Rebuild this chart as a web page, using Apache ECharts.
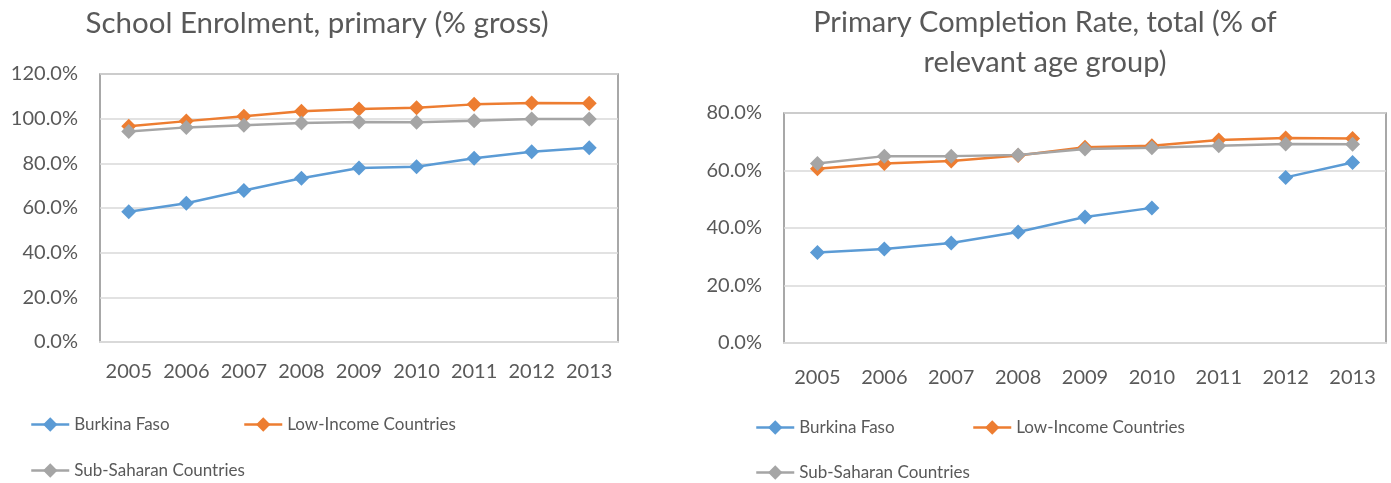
<!DOCTYPE html>
<html>
<head>
<meta charset="utf-8">
<script src="https://cdn.jsdelivr.net/npm/echarts@6/dist/echarts.min.js"></script>
<style>
  html, body { margin: 0; padding: 0; background: #ffffff; }
  #chart { width: 1391px; height: 483px; }
</style>
</head>
<body>
<div id="chart"></div>
<script>
// Years shared by both panels
const years = ['2005', '2006', '2007', '2008', '2009', '2010', '2011', '2012', '2013'];

// School enrolment, primary (% gross)
const enrolBurkina = [58.3, 62.1, 67.8, 73.3, 77.9, 78.5, 82.3, 85.2, 87.0];
const enrolLowIncome = [96.6, 98.9, 101.1, 103.3, 104.3, 104.9, 106.4, 107.0, 106.9];
const enrolSubSaharan = [94.2, 96.1, 97.0, 98.1, 98.5, 98.4, 99.1, 99.9, 99.8];

// Primary completion rate, total (% of relevant age group)
const complBurkina = [31.5, 32.7, 34.8, 38.6, 43.8, 47.0, null, 57.6, 62.8];
const complLowIncome = [60.6, 62.4, 63.3, 65.2, 68.1, 68.6, 70.6, 71.3, 71.1];
const complSubSaharan = [62.4, 65.0, 65.0, 65.4, 67.5, 67.9, 68.6, 69.2, 69.1];

const seriesNames = ['Burkina Faso', 'Low-Income Countries', 'Sub-Saharan Countries'];
const seriesColors = ['#5B9BD5', '#ED7D31', '#A5A5A5'];

const FONT = 'Lato';
const TEXT = '#595959';

const chart = echarts.init(document.getElementById('chart'), null, { renderer: 'canvas' });

function lineSeries(name, color, data, idx) {
  return {
    name: name,
    type: 'line',
    xAxisIndex: idx,
    yAxisIndex: idx,
    data: data,
    connectNulls: false,
    symbol: 'diamond',
    symbolSize: 15,
    lineStyle: { color: color, width: 2.5 },
    itemStyle: { color: color },
    emphasis: { disabled: true },
    animation: false
  };
}

function yAxis(idx, max, interval) {
  return {
    type: 'value', gridIndex: idx, min: 0, max: max, interval: interval,
    axisLine: { show: false }, axisTick: { show: false },
    splitLine: { lineStyle: { color: '#D9D9D9', width: 1.5 } },
    axisLabel: {
      margin: 22, color: TEXT, fontFamily: FONT, fontSize: 20,
      formatter: v => v.toFixed(1) + '%'
    }
  };
}

function xAxis(idx, labelMargin) {
  return {
    type: 'category', gridIndex: idx, data: years, boundaryGap: true,
    axisLine: { lineStyle: { color: '#D9D9D9', width: 2 } },
    axisTick: { show: false },
    axisLabel: { margin: labelMargin, color: TEXT, fontFamily: FONT, fontSize: 20, interval: 0 }
  };
}

function legendItem(name, left, top) {
  return {
    data: [name], left: left, top: top, orient: 'horizontal',
    itemWidth: 38, itemHeight: 18, itemGap: 0, padding: 0,
    selectedMode: false,
    lineStyle: { width: 2.5 },
    textStyle: { color: TEXT, fontFamily: FONT, fontSize: 17, padding: [0, 0, 0, 0] }
  };
}

const option = {
  backgroundColor: '#ffffff',
  animation: false,
  graphic: [
    {
      type: 'text', x: 317, y: 23,
      style: { text: 'School Enrolment, primary (% gross)', fill: TEXT, font: '29.5px ' + FONT,
               textAlign: 'center', textVerticalAlign: 'middle' }
    },
    {
      type: 'text', x: 1045, y: 43,
      style: { text: 'Primary Completion Rate, total (% of\nrelevant age group)', fill: TEXT,
               font: '29px ' + FONT, lineHeight: 40, textAlign: 'center', textVerticalAlign: 'middle' }
    }
  ],
  grid: [
    { left: 100, top: 74, width: 518, height: 268, show: true, borderColor: '#8C8C8C', borderWidth: 1.5, backgroundColor: 'transparent' },
    { left: 784, top: 113, width: 602, height: 230, show: true, borderColor: '#8C8C8C', borderWidth: 1.5, backgroundColor: 'transparent' }
  ],
  xAxis: [xAxis(0, 20), xAxis(1, 25)],
  yAxis: [yAxis(0, 120, 20), yAxis(1, 80, 20)],
  legend: [
    legendItem(seriesNames[0], 30, 416),
    legendItem(seriesNames[1], 243, 416),
    legendItem(seriesNames[2], 30, 462),
    legendItem(seriesNames[0], 755, 419),
    legendItem(seriesNames[1], 972, 419),
    legendItem(seriesNames[2], 755, 464)
  ],
  series: [
    lineSeries(seriesNames[0], seriesColors[0], enrolBurkina, 0),
    lineSeries(seriesNames[1], seriesColors[1], enrolLowIncome, 0),
    lineSeries(seriesNames[2], seriesColors[2], enrolSubSaharan, 0),
    lineSeries(seriesNames[0], seriesColors[0], complBurkina, 1),
    lineSeries(seriesNames[1], seriesColors[1], complLowIncome, 1),
    lineSeries(seriesNames[2], seriesColors[2], complSubSaharan, 1)
  ]
};

chart.setOption(option);
</script>
</body>
</html>
